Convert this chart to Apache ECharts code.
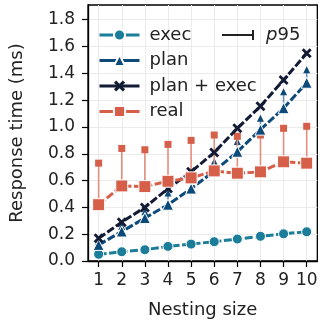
<!DOCTYPE html>
<html><head><meta charset="utf-8">
<script src="https://cdn.jsdelivr.net/npm/echarts@6/dist/echarts.min.js"></script>
<style>html,body{margin:0;padding:0;background:#fff}#c{width:320px;height:324px}</style>
</head><body><div id="c"></div>
<script>
const nesting = [1, 2, 3, 4, 5, 6, 7, 8, 9, 10];
const yTicks = [0, 0.2, 0.4, 0.6, 0.8, 1.0, 1.2, 1.4, 1.6, 1.8];
const execVals = [0.05, 0.069, 0.084, 0.109, 0.126, 0.144, 0.164, 0.184, 0.203, 0.218];
const planVals = [0.12, 0.22, 0.32, 0.42, 0.54, 0.67, 0.815, 0.98, 1.14, 1.33];
const planExecVals = [0.17, 0.29, 0.40, 0.54, 0.665, 0.81, 0.99, 1.155, 1.35, 1.55];
const realVals = [0.42, 0.56, 0.555, 0.595, 0.62, 0.672, 0.655, 0.665, 0.74, 0.73];
const planP95 = [0.14, 0.25, 0.36, 0.50, 0.61, 0.735, 0.885, 1.057, 1.255, 1.42];
const realP95 = [0.73, 0.84, 0.83, 0.87, 0.90, 0.94, 0.93, 0.94, 0.99, 1.005];

const C_EXEC = '#1b7d99', C_PLAN = '#0c4a7a', C_PE = '#141c35', C_REAL = '#d65f4a';
const FONT = 'DejaVu Sans';
const pairs = v => nesting.map((x, i) => [x, v[i]]);
const triples = (m, p) => nesting.map((x, i) => [x, m[i], p[i]]);
const XPATH = 'path://M0,2 L2,0 L5,3 L8,0 L10,2 L7,5 L10,8 L8,10 L5,7 L2,10 L0,8 L3,5 Z';

function errRender(kind, lineColor, capColor) {
  return function (params, api) {
    const x = api.value(0), m = api.value(1), p = api.value(2);
    const a = api.coord([x, m]), b = api.coord([x, p]);
    const cap = kind === 'rect'
      ? { type: 'rect', shape: { x: b[0] - 3.5, y: b[1] - 3.5, width: 7, height: 7 }, style: { fill: capColor } }
      : { type: 'polygon', shape: { points: [[b[0], b[1] - 4.5], [b[0] - 3.5, b[1] + 2.5], [b[0] + 3.5, b[1] + 2.5]] }, style: { fill: capColor } };
    return { type: 'group', children: [
      { type: 'line', shape: { x1: a[0], y1: a[1], x2: b[0], y2: b[1] }, style: { stroke: lineColor, lineWidth: 1.6 } },
      cap
    ] };
  };
}

function lineSeries(name, data, color, symbol, size, border) {
  return {
    name, type: 'line', data: pairs(data), symbol, symbolSize: size,
    color, z: 3,
    lineStyle: { color, width: 3, type: [8, 2.5] },
    itemStyle: { color, borderColor: border ? '#fff' : color, borderWidth: border ? 1 : 0 },
    emphasis: { disabled: true }, animation: false
  };
}

const chart = echarts.init(document.getElementById('c'), null, { renderer: 'canvas' });
chart.setOption({
  animation: false,
  textStyle: { fontFamily: FONT },
  grid: { left: 77, top: 5, width: 245, height: 257, show: true, borderColor: '#000', borderWidth: 1.3, backgroundColor: 'transparent' },
  xAxis: {
    type: 'value', min: 0.54, max: 10.46,
    name: 'Nesting size', nameLocation: 'middle', nameGap: 40,
    nameTextStyle: { fontSize: 18, color: '#222', fontFamily: FONT },
    axisLine: { lineStyle: { color: '#000', width: 1.3 } },
    axisTick: { show: true, inside: false, length: 6, lineStyle: { color: '#000', width: 1.2 }, customValues: nesting },
    axisLabel: { fontSize: 17, color: '#222', margin: 11, fontFamily: FONT, customValues: nesting },
    splitLine: { show: true, lineStyle: { color: '#ebebeb', width: 1 } }
  },
  yAxis: {
    type: 'value', min: 0, max: 1.91,
    name: 'Response time (ms)', nameLocation: 'middle', nameGap: 62,
    nameTextStyle: { fontSize: 18, color: '#222', fontFamily: FONT },
    axisLine: { show: true, lineStyle: { color: '#000', width: 1.3 } },
    axisTick: { show: true, inside: false, length: 6, lineStyle: { color: '#000', width: 1.2 }, customValues: yTicks },
    axisLabel: { fontSize: 17, color: '#222', margin: 13, fontFamily: FONT, customValues: yTicks, formatter: v => v.toFixed(1) },
    splitLine: { show: true, lineStyle: { color: '#ebebeb', width: 1 } }
  },
  legend: [
    {
      data: ['exec', 'plan', 'plan + exec', 'real'],
      orient: 'vertical', left: 93, top: 21, itemWidth: 40, itemHeight: 14, itemGap: 7.5,
      selectedMode: false,
      lineStyle: { type: 'solid', width: 3 },
      textStyle: { fontSize: 18, color: '#222', fontFamily: FONT, lineHeight: 18, padding: [0, 0, 0, 5] }
    },
    {
      data: [{ name: 'p95', icon: 'path://M0,4 H30 V0 H32 V10 H30 V6 H0 Z', itemStyle: { color: '#222' } }],
      orient: 'vertical', left: 217, top: 21, itemWidth: 32, itemHeight: 12,
      selectedMode: false,
      formatter: () => '{i|p}95',
      textStyle: { fontSize: 18, color: '#222', fontFamily: FONT, lineHeight: 18, padding: [0, 0, 0, 7],
        rich: { i: { fontStyle: 'italic', fontSize: 18, fontFamily: FONT, color: '#222' } } }
    }
  ],
  series: [
    { name: 'plan p95', type: 'custom', z: 1, data: triples(planVals, planP95), encode: { x: 0, y: [1, 2] },
      renderItem: errRender('tri', '#6f93b3', C_PLAN), color: C_PLAN, silent: true },
    { name: 'p95', type: 'custom', z: 1, data: triples(realVals, realP95), encode: { x: 0, y: [1, 2] },
      renderItem: errRender('rect', '#e38f80', C_REAL), color: '#222', silent: true },
    lineSeries('exec', execVals, C_EXEC, 'circle', 10, true),
    lineSeries('plan', planVals, C_PLAN, 'triangle', 11, true),
    lineSeries('plan + exec', planExecVals, C_PE, XPATH, 10, false),
    lineSeries('real', realVals, C_REAL, 'rect', 12, true)
  ]
});
</script></body></html>
